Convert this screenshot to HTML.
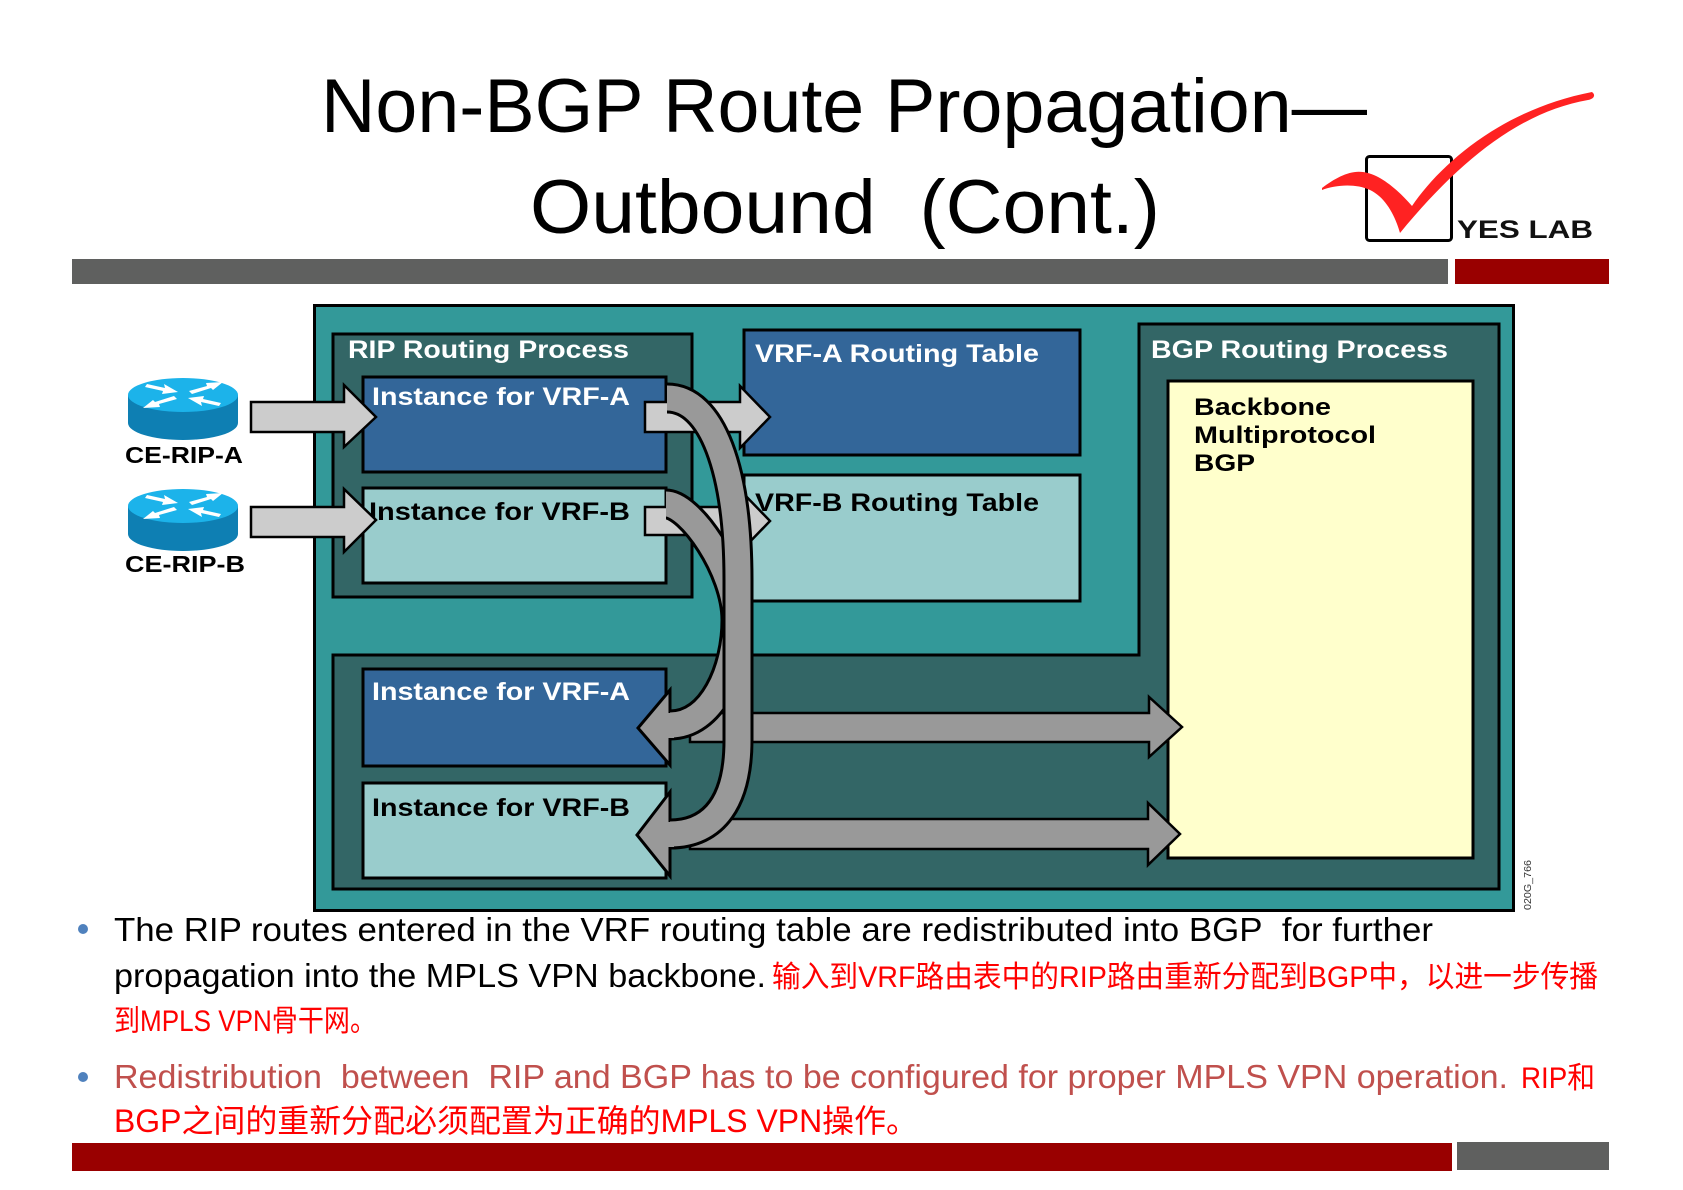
<!DOCTYPE html>
<html>
<head>
<meta charset="utf-8">
<style>
html,body{margin:0;padding:0;background:#fff;}
svg{display:block;}
text{font-family:"Liberation Sans","Noto Sans CJK SC",sans-serif;}
</style>
</head>
<body>
<svg width="1683" height="1190" viewBox="0 0 1683 1190" xmlns="http://www.w3.org/2000/svg">
<rect x="0" y="0" width="1683" height="1190" fill="#fff"/>

<!-- Title -->
<text x="321" y="132" font-size="76" fill="#000" textLength="1046" lengthAdjust="spacingAndGlyphs">Non-BGP Route Propagation—</text>
<text x="530" y="233" font-size="76" fill="#000" textLength="630" lengthAdjust="spacingAndGlyphs">Outbound&#160; (Cont.)</text>

<!-- Logo -->
<rect x="1366.5" y="156.5" width="85" height="84" rx="3" fill="none" stroke="#000" stroke-width="3"/>
<path d="M1322,188 C1335,178 1350,170 1363,172 C1380,174 1398,190 1412,206 C1440,165 1500,110 1592,92 C1596,95 1594,99 1588,100 C1520,112 1460,160 1400,233 C1395,215 1385,197 1370,190 C1355,183 1335,185 1322,190 Z" fill="#ff2222"/>
<text x="1457" y="238" font-size="25" font-weight="bold" fill="#111" textLength="136" lengthAdjust="spacingAndGlyphs">YES LAB</text>

<!-- Top bars -->
<rect x="72" y="259" width="1376" height="25" fill="#5f605f"/>
<rect x="1455" y="259" width="154" height="25" fill="#990000"/>

<!-- Diagram outer -->
<rect x="314.5" y="305.5" width="1199" height="605" fill="#339999" stroke="#000" stroke-width="3"/>
<polygon points="1139,324 1499,324 1499,889 333,889 333,655 1139,655" fill="#336666" stroke="#000" stroke-width="3"/>

<!-- RIP box -->
<rect x="333" y="334" width="359" height="263" fill="#336666" stroke="#000" stroke-width="3"/>
<text x="348" y="358" font-size="25" font-weight="bold" fill="#fff" textLength="281" lengthAdjust="spacingAndGlyphs">RIP Routing Process</text>

<rect x="363" y="377" width="303" height="95" fill="#336699" stroke="#000" stroke-width="3"/>
<text x="372" y="405" font-size="25" font-weight="bold" fill="#fff" textLength="258" lengthAdjust="spacingAndGlyphs">Instance for VRF-A</text>
<rect x="363" y="488" width="303" height="95" fill="#99cccc" stroke="#000" stroke-width="3"/>
<text x="369" y="520" font-size="25" font-weight="bold" fill="#000" textLength="261" lengthAdjust="spacingAndGlyphs">Instance for VRF-B</text>

<!-- VRF tables -->
<rect x="744" y="330" width="336" height="125" fill="#336699" stroke="#000" stroke-width="3"/>
<text x="755" y="362" font-size="25" font-weight="bold" fill="#fff" textLength="284" lengthAdjust="spacingAndGlyphs">VRF-A Routing Table</text>
<rect x="744" y="475" width="336" height="126" fill="#99cccc" stroke="#000" stroke-width="3"/>
<text x="755" y="511" font-size="25" font-weight="bold" fill="#000" textLength="284" lengthAdjust="spacingAndGlyphs">VRF-B Routing Table</text>

<!-- BGP -->
<text x="1151" y="358" font-size="25" font-weight="bold" fill="#fff" textLength="297" lengthAdjust="spacingAndGlyphs">BGP Routing Process</text>
<rect x="1168" y="381" width="305" height="477" fill="#ffffcc" stroke="#000" stroke-width="3"/>
<text x="1194" y="415" font-size="24" font-weight="bold" fill="#000" textLength="137" lengthAdjust="spacingAndGlyphs">Backbone</text>
<text x="1194" y="443" font-size="24" font-weight="bold" fill="#000" textLength="182" lengthAdjust="spacingAndGlyphs">Multiprotocol</text>
<text x="1194" y="471" font-size="24" font-weight="bold" fill="#000" textLength="61" lengthAdjust="spacingAndGlyphs">BGP</text>

<!-- Lower instances -->
<rect x="363" y="669" width="303" height="97" fill="#336699" stroke="#000" stroke-width="3"/>
<text x="372" y="700" font-size="25" font-weight="bold" fill="#fff" textLength="258" lengthAdjust="spacingAndGlyphs">Instance for VRF-A</text>
<rect x="363" y="783" width="303" height="95" fill="#99cccc" stroke="#000" stroke-width="3"/>
<text x="372" y="816" font-size="25" font-weight="bold" fill="#000" textLength="258" lengthAdjust="spacingAndGlyphs">Instance for VRF-B</text>

<!-- Routers -->
<g transform="translate(183,395)">
  <path d="M-55,0 L-55,28 A55,17 0 0 0 55,28 L55,0 Z" fill="#0e7fb3"/>
  <ellipse cx="0" cy="0" rx="55" ry="17" fill="#1cb3ea"/>
  <polygon points="-36,-11 -18,-7 -19,-11 -5,-3 -21,-1 -20,-4 -38,-8" fill="#fff"/>
  <polygon points="6,-4 24,-9 23,-12 40,-13 30,-5 28,-7 9,-1" fill="#fff"/>
  <polygon points="-6,4 -24,9 -23,12 -40,13 -30,5 -28,7 -9,1" fill="#fff"/>
  <polygon points="36,11 18,7 19,11 5,3 21,1 20,4 38,8" fill="#fff"/>
</g>
<text x="125" y="463" font-size="23" font-weight="bold" fill="#000" textLength="118" lengthAdjust="spacingAndGlyphs">CE-RIP-A</text>
<g transform="translate(183,506)">
  <path d="M-55,0 L-55,28 A55,17 0 0 0 55,28 L55,0 Z" fill="#0e7fb3"/>
  <ellipse cx="0" cy="0" rx="55" ry="17" fill="#1cb3ea"/>
  <polygon points="-36,-11 -18,-7 -19,-11 -5,-3 -21,-1 -20,-4 -38,-8" fill="#fff"/>
  <polygon points="6,-4 24,-9 23,-12 40,-13 30,-5 28,-7 9,-1" fill="#fff"/>
  <polygon points="-6,4 -24,9 -23,12 -40,13 -30,5 -28,7 -9,1" fill="#fff"/>
  <polygon points="36,11 18,7 19,11 5,3 21,1 20,4 38,8" fill="#fff"/>
</g>
<text x="125" y="572" font-size="23" font-weight="bold" fill="#000" textLength="120" lengthAdjust="spacingAndGlyphs">CE-RIP-B</text>

<!-- Input arrows -->
<polygon points="251,402 344,402 344,385 376,417 344,447 344,432 251,432" fill="#cccccc" stroke="#000" stroke-width="2.5" stroke-linejoin="miter"/>
<polygon points="251,507 344,507 344,489 376,520 344,552 344,537 251,537" fill="#cccccc" stroke="#000" stroke-width="2.5" stroke-linejoin="miter"/>

<!-- Small arrows to VRF tables -->
<polygon points="645,402 740,402 740,386 770,417 740,448 740,432 645,432" fill="#cccccc" stroke="#000" stroke-width="2.5"/>
<polygon points="645,507 740,507 740,490 770,521 740,552 740,535 645,535" fill="#cccccc" stroke="#000" stroke-width="2.5"/>

<!-- Lower horizontal arrows -->
<polygon points="690,713 1149,713 1149,697 1182,727 1149,757 1149,742 690,742" fill="#999999" stroke="#000" stroke-width="2.5"/>
<polygon points="690,819 1148,819 1148,803 1180,834 1148,865 1148,849 690,849" fill="#999999" stroke="#000" stroke-width="2.5"/>

<!-- Curve B (from upper VRF-B to lower VRF-A) -->
<polygon points="670,690 638,728 670,765" fill="#999999" stroke="#000" stroke-width="3"/>
<path d="M666 504 C690 504 736 570 736 620 C736 670 712 725 670 725" fill="none" stroke="#000" stroke-width="31"/>
<path d="M666 504 C690 504 736 570 736 620 C736 670 712 725 670 725" fill="none" stroke="#999999" stroke-width="25"/>
<rect x="664" y="713" width="10" height="25" fill="#999999"/>

<!-- Curve A (from upper VRF-A to lower VRF-B) -->
<polygon points="670,792 637,835 670,876" fill="#999999" stroke="#000" stroke-width="3"/>
<path d="M667 398 C712 398 738 470 738 580 L738 740 C738 800 715 834 670 834" fill="none" stroke="#000" stroke-width="31"/>
<path d="M667 398 C712 398 738 470 738 580 L738 740 C738 800 715 834 670 834" fill="none" stroke="#999999" stroke-width="25"/>
<rect x="664" y="822" width="10" height="25" fill="#999999"/>

<!-- small id -->
<text transform="translate(1531,910) rotate(-90)" font-size="10" fill="#333" textLength="50" lengthAdjust="spacingAndGlyphs">020G_766</text>

<!-- Bullets -->
<circle cx="83" cy="929" r="5" fill="#4f81bd"/>
<text x="114" y="941" font-size="33" fill="#000" textLength="1319" lengthAdjust="spacingAndGlyphs">The RIP routes entered in the VRF routing table are redistributed into BGP&#160; for further</text>
<text x="114" y="987" font-size="33" fill="#000" textLength="652" lengthAdjust="spacingAndGlyphs">propagation into the MPLS VPN backbone.</text>
<text x="772" y="987" font-size="30" fill="#ff0000" textLength="826" lengthAdjust="spacingAndGlyphs">输入到VRF路由表中的RIP路由重新分配到BGP中，以进一步传播</text>
<text x="114" y="1031" font-size="30" fill="#ff0000" textLength="262" lengthAdjust="spacingAndGlyphs">到MPLS VPN骨干网。</text>

<circle cx="83" cy="1077" r="5" fill="#4f81bd"/>
<text x="114" y="1088" font-size="33" fill="#c0504d" textLength="1394" lengthAdjust="spacingAndGlyphs">Redistribution&#160; between&#160; RIP and BGP has to be configured for proper MPLS VPN operation.</text>
<text x="1521" y="1088" font-size="30" fill="#ff0000" textLength="74" lengthAdjust="spacingAndGlyphs">RIP和</text>
<text x="114" y="1132" font-size="32" fill="#ff0000" textLength="804" lengthAdjust="spacingAndGlyphs">BGP之间的重新分配必须配置为正确的MPLS VPN操作。</text>

<!-- Bottom bars -->
<rect x="72" y="1143" width="1380" height="28" fill="#990000"/>
<rect x="1457" y="1142" width="152" height="28" fill="#5f605f"/>
</svg>
</body>
</html>
